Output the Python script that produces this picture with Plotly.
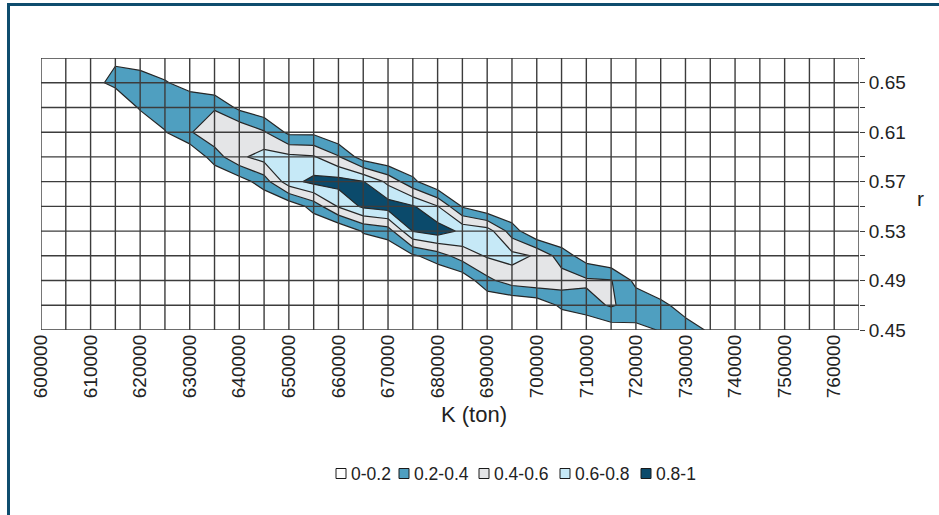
import plotly.graph_objects as go

# Carrying capacity K (ton) and growth rate r on the grid
k_values = [600000 + 5000 * i for i in range(34)]
r_values = [0.45, 0.47, 0.49, 0.51, 0.53, 0.55, 0.57, 0.59, 0.61, 0.63, 0.65, 0.67]

# Relative likelihood, one row per r value (bottom to top)
likelihood = [
    [0]*23 + [0.10, 0.15, 0.21, 0.30, 0.17, 0.02] + [0]*5,
    [0]*20 + [0.05, 0.24, 0.33, 0.42, 0.32, 0.26, 0.10, 0.02] + [0]*6,
    [0]*17 + [0.05, 0.35, 0.50, 0.55, 0.50, 0.43, 0.41, 0.15] + [0]*9,
    [0]*14 + [0.02, 0.17, 0.30, 0.50, 0.62, 0.66, 0.58, 0.30, 0.10] + [0]*11,
    [0]*13 + [0.22, 0.30, 0.81, 0.90, 0.76, 0.70, 0.30] + [0]*14,
    [0]*10 + [0.05, 0.28, 0.62, 0.84, 0.90, 0.82, 0.61, 0.18] + [0]*16,
    [0]*8 + [0.10, 0.30, 0.72, 0.86, 0.88, 0.81, 0.55, 0.25] + [0]*18,
    [0]*7 + [0.30, 0.56, 0.68, 0.65, 0.62, 0.42, 0.09] + [0]*20,
    [0]*4 + [0.05, 0.19, 0.38, 0.55, 0.58, 0.42, 0.15, 0.15] + [0]*22,
    [0]*3 + [0.05, 0.22, 0.30, 0.38, 0.38, 0.15, 0.05] + [0]*24,
    [0]*2 + [0.15, 0.24, 0.30, 0.22, 0.10, 0.02] + [0]*26,
    [0]*2 + [0.12, 0.18, 0.10, 0.04] + [0]*28,
]

band_labels = ["0-0.2", "0.2-0.4", "0.4-0.6", "0.6-0.8", "0.8-1"]
band_colors = ["#ffffff", "#4f9fc0", "#e4e5e7", "#c6e9f7", "#0b4a6b"]

k_tick_text = [f"{k:d}" if k % 10000 == 0 else "" for k in k_values]
r_tick_text = [f"{r:.2f}" if round((r - 0.45) / 0.02) % 2 == 0 else "" for r in r_values]

W, H = 939, 515
PL, PR, PT, PB = 41, 859, 58, 330
TEXT = "#222222"
FONT = "Liberation Sans, Arial, sans-serif"


def fx(px):
    return (px - PL) / (PR - PL)


def fy(py):
    return (PB - py) / (PB - PT)


fig = go.Figure()
fig.add_trace(go.Contour(
    x=k_values, y=r_values, z=likelihood,
    zmin=0, zmax=1,
    contours=dict(start=0.2, end=0.81, size=0.2, coloring="fill", showlines=True),
    colorscale=[[i / 4, c] for i, c in enumerate(band_colors)],
    line=dict(color="#262626", width=1.2, smoothing=0),
    showscale=False, hoverinfo="skip",
))

shapes = []
# grid drawn on top of the filled contours
for k in k_values:
    shapes.append(dict(type="line", xref="x", yref="y", x0=k, x1=k,
                       y0=r_values[0], y1=r_values[-1], layer="above",
                       line=dict(color="#3c3c3c", width=1.4)))
for r in r_values:
    shapes.append(dict(type="line", xref="x", yref="y", x0=k_values[0], x1=k_values[-1],
                       y0=r, y1=r, layer="above",
                       line=dict(color="#3c3c3c", width=1.4)))

# frame of the chart area
shapes.append(dict(type="line", xref="paper", yref="paper", x0=fx(8.5), x1=fx(W + 5),
                   y0=fy(4.5), y1=fy(4.5), line=dict(color="#0e4d6e", width=3)))
shapes.append(dict(type="line", xref="paper", yref="paper", x0=fx(8.5), x1=fx(8.5),
                   y0=fy(3), y1=fy(H + 5), line=dict(color="#0e4d6e", width=3)))

annotations = [
    dict(text="K (ton)", xref="paper", yref="paper", x=fx(474), y=fy(429),
         showarrow=False, font=dict(size=22, color=TEXT, family=FONT)),
    dict(text="r", xref="paper", yref="paper", x=fx(926), y=fy(199),
         showarrow=False, font=dict(size=21, color=TEXT, family=FONT)),
]

# legend: swatch + label per band
leg_x = [336, 399, 479, 560, 641]
for x0, lab, col in zip(leg_x, band_labels, band_colors):
    shapes.append(dict(type="rect", xref="paper", yref="paper",
                       x0=fx(x0), x1=fx(x0 + 10), y0=fy(478.5), y1=fy(468.5),
                       fillcolor=col, line=dict(color="#1a1a1a", width=1)))
    annotations.append(dict(text=lab, xref="paper", yref="paper", x=fx(x0 + 13), y=fy(474),
                            xanchor="left", yanchor="middle", showarrow=False,
                            font=dict(size=17.5, color=TEXT, family=FONT)))

fig.update_layout(
    width=W, height=H,
    margin=dict(l=PL, r=W - PR, t=PT, b=H - PB),
    paper_bgcolor="white", plot_bgcolor="white",
    showlegend=False,
    shapes=shapes, annotations=annotations,
    xaxis=dict(range=[k_values[0], k_values[-1]], tickvals=k_values, ticktext=k_tick_text,
               tickangle=-90, showgrid=False, zeroline=False, ticks="",
               tickfont=dict(size=19, color=TEXT, family=FONT)),
    yaxis=dict(range=[r_values[0], r_values[-1]], side="right", tickvals=r_values,
               ticktext=r_tick_text, showgrid=False, zeroline=False,
               ticks="outside", ticklen=5, tickcolor="#3c3c3c", tickwidth=1.4,
               tickfont=dict(size=19, color=TEXT, family=FONT)),
)

fig.write_html("out.html")
